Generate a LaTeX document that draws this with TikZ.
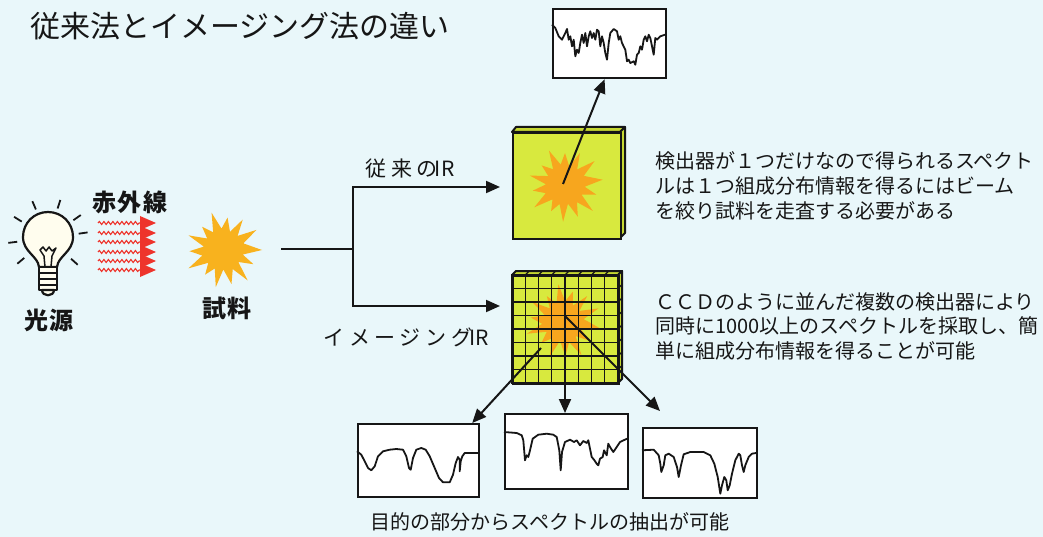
\documentclass[tikz,border=0pt]{standalone}
\usepackage{fontspec}
\setmainfont{Noto Sans CJK JP}
\newfontfamily\jpwide[LetterSpace=22]{Noto Sans CJK JP}
\newfontfamily\jplabel[LetterSpace=6]{Noto Sans CJK JP}
\usetikzlibrary{arrows.meta,decorations.pathmorphing}

\definecolor{bgc}{RGB}{233,247,250}
\definecolor{ink}{RGB}{22,22,22}
\definecolor{detgreen}{RGB}{216,233,62}
\definecolor{detside}{RGB}{198,216,50}
\definecolor{burstor}{RGB}{248,178,30}
\definecolor{burstin}{RGB}{247,166,30}
\definecolor{rayred}{RGB}{238,52,44}
\definecolor{glass}{RGB}{255,253,238}

\tikzset{
  burst/.pic={
    \fill[pic actions] (0:1) -- (13:0.52) -- (25:0.86) -- (38:0.5) -- (51:1) -- (63:0.55)
      -- (76:0.9) -- (89:0.5) -- (101:0.97) -- (114:0.52) -- (126:0.78) -- (139:0.5)
      -- (152:1) -- (165:0.55) -- (178:0.86) -- (190:0.5) -- (203:0.96) -- (216:0.5)
      -- (228:0.8) -- (241:0.52) -- (253:1) -- (266:0.55) -- (278:0.84) -- (291:0.5)
      -- (303:0.93) -- (316:0.52) -- (329:1) -- (342:0.55) -- cycle;
  },
  arr/.style={draw=ink, line width=2pt, -{Triangle[length=14pt,width=12pt]}},
  link/.style={draw=ink, line width=2pt},
  specbox/.style={draw=ink, line width=2.2pt, fill=white, anchor=north west, inner sep=0pt},
  specline/.style={draw=ink, line width=1.8pt, line join=round},
  detface/.style={draw=ink, line width=2pt, fill=detgreen, anchor=north west, inner sep=0pt},
  detedge/.style={draw=ink, line width=2pt, fill=detside, line join=round},
  gridl/.style={draw=ink, line width=1.3pt},
  wave/.style={draw=rayred, line width=1.1pt, decorate,
    decoration={snake, segment length=4.5pt, amplitude=1.5pt}},
  txt/.style={text=ink, inner sep=0pt},
  bulbline/.style={draw=ink, line width=2.2pt, line join=round},
}

\begin{document}
\begin{tikzpicture}[x=1pt,y=-1pt]
\fill[bgc] (0,0) rectangle (1043,537);
\useasboundingbox (0,0) rectangle (1043,537);

% heading
\node[txt, anchor=west, font=\fontsize{30}{36}\selectfont] (title) at (30,26) {従来法とイメージング法の違い};

% light bulb
\filldraw[fill=glass, bulbline]
  (39,267) .. controls (38,256) and (23,252) .. (23,237)
  .. controls (23,223) and (34,212) .. (48,212)
  .. controls (62,212) and (73,223) .. (73,237)
  .. controls (73,252) and (58,256) .. (57,267) -- cycle;
\filldraw[fill=glass, bulbline] (39,267) rectangle (57,290);
\draw[ink, line width=1.6pt] (39,273) -- (57,273) (39,279) -- (57,279) (39,285) -- (57,285);
\filldraw[fill=glass, bulbline] (42,290) .. controls (42,297) and (54,297) .. (54,290) -- cycle;
\draw[ink, line width=1.5pt, line join=round]
  (45,267) -- (44,256) -- (40,250) -- (43,247) -- (46,251) -- (49,247) -- (52,251) -- (56,248) -- (52,256) -- (51,267);
\foreach \a in {-187,-148,-113,-72,-35,-8,42,140}
  \draw[ink, line width=1.8pt, shift={(48,238)}] (\a:31) -- (\a:40);
\node[txt, anchor=center, font=\jplabel\bfseries\fontsize{24}{28}\selectfont] (lamp) at (49,320) {光源};

% infrared rays
\node[txt, anchor=center, font=\jplabel\bfseries\fontsize{24}{28}\selectfont] (irlabel) at (130,202) {赤外線};
\foreach \y in {223,233,242,252,261,270}
  \draw[wave] (98,\y) -- (141,\y);
\foreach \y in {223,233,242,252,261,270}
  \fill[rayred] (140,\y-7) -- (156,\y) -- (140,\y+7) -- cycle;

% sample
\pic[fill=burstor, scale=39] at (223,250) {burst};
\node[txt, anchor=center, font=\jplabel\bfseries\fontsize{24}{28}\selectfont] (samplabel) at (227,308) {試料};

% branching paths
\coordinate (sampout) at (281,249);
\coordinate (split) at (353,249);
\coordinate (in1) at (500,187);
\coordinate (in2) at (500,306);
\draw[link] (sampout) -- (split);
\draw[arr] (split) |- (in1);
\draw[arr] (split) |- (in2);
\node[txt, anchor=center, font=\fontsize{21}{25}\selectfont] (conv) at (410,169) {{\jpwide 従来の}\kern-3pt IR};
\node[txt, anchor=center, font=\fontsize{21}{25}\selectfont] (imag) at (406,337) {{\jpwide イメージング}\kern-3pt IR};

% single-element detector
\filldraw[detedge] (512,132) -- (516,127) -- (625,127) -- (620,132) -- cycle;
\filldraw[detedge] (620,132) -- (625,127) -- (625,233) -- (620,238) -- cycle;
\node[detface, minimum width=108pt, minimum height=106pt] (det1) at (512,132) {};
\pic[fill=burstin, scale=38, rotate=8] at (565,185) {burst};
\coordinate (c1) at (563,184);

% array detector
\filldraw[detedge] (512,275) -- (516,271) -- (622,271) -- (618,275) -- cycle;
\filldraw[detedge] (618,275) -- (622,271) -- (622,379) -- (618,383) -- cycle;
\node[detface, minimum width=106pt, minimum height=108pt] (det2) at (512,275) {};
\pic[fill=burstin, scale=38, rotate=-10] at (563,322) {burst};
\foreach \i in {1,...,7} {
  \draw[gridl] (512+13.25*\i,275) -- (512+13.25*\i,383);
  \draw[gridl] (512,275+13.5*\i) -- (618,275+13.5*\i);
  \draw[gridl] (512+13.25*\i,275) -- (516+13.25*\i,271);
  \draw[gridl] (618,275+13.5*\i) -- (622,271+13.5*\i);
}
\draw[ink, line width=2pt] (512,275) rectangle (618,383);
\coordinate (c2) at (565,316);
\coordinate (c3) at (541,348);
\coordinate (c4) at (565,338);

% spectrum boxes
\node[specbox, minimum width=113pt, minimum height=69pt] (sp0) at (552,8) {};
\node[specbox, minimum width=121pt, minimum height=73pt] (sp1) at (357,423) {};
\node[specbox, minimum width=123pt, minimum height=75pt] (sp2) at (504,413) {};
\node[specbox, minimum width=114pt, minimum height=70pt] (sp3) at (642,427) {};

\draw[specline, shift={(sp0.north west)}] plot coordinates {
 (0,16.7) (3.3,20) (6.7,28.3) (10,31.7) (13.3,25) (15,21) (16.7,31.7) (18.3,28.3)
 (20,38.3) (21.7,31.7) (23.3,48.3) (25,41.7) (26.7,45) (28.3,35) (30,26.7) (31.7,35)
 (33.3,25) (35,38.3) (36.7,28.3) (38.3,23.3) (40,30) (41.7,25) (43.3,31.7) (45,21.7)
 (46.7,23.3) (48.3,38.3) (50,28.3) (51.7,35) (53.3,45) (55,51.7) (56.7,35) (58.3,25)
 (61.7,21) (65,23.3) (66.7,31.7) (68.3,28.3) (70,35) (73.3,41.7) (75,53.3) (76.7,51.7)
 (78.3,55) (81.7,53.3) (83.3,56.7) (85,46.7) (86.7,45) (88.3,38.3) (90,41.7) (91.7,31.7)
 (93.3,28.3) (95,33.3) (96.7,26.7) (98.3,30) (100,38.3) (101.7,46.7) (103.3,30) (105,31.7)
 (108.3,28.3) (113,26.7)};

\draw[specline, shift={(sp1.north west)}] plot coordinates {
 (0,28.3) (4.3,31.7) (7.7,38.3) (11,45) (14.3,47.3) (17.7,43.3) (21,33.3) (26,28.3)
 (32.7,26.7) (39.3,26) (46,26.7) (49.3,33.3) (52,45) (53.7,46.7) (56,35) (59.3,26.7)
 (64.3,25) (68.7,26.7) (72.7,33.3) (77.7,45) (82,55) (86,59.3) (92.7,59.3) (96,51.7)
 (98.7,40) (101,34) (102.7,36.7) (102.7,48.3) (103.7,38.3) (105.3,33.3) (107.7,30) (121,30)};

\draw[specline, shift={(sp2.north west)}] plot coordinates {
 (0,19) (12.7,20) (17.7,22.3) (19.3,27.3) (21,47.3) (22.7,42.3) (24.3,44) (26,37.3)
 (28.7,25.7) (34.3,21.7) (42.7,20.7) (49.3,21.7) (52.7,24) (55.3,37.3) (56.7,57.3) (58,39)
 (61,29) (66,26.7) (70,29) (72.7,27.3) (76,32.3) (79.3,28) (82.7,30) (84.3,27.3)
 (86,35.7) (87.7,44) (90,46.7) (92.7,50.7) (94.3,52.3) (96,45.7) (98.7,44) (100,37.3)
 (102.7,42.3) (104.3,30.7) (106,34) (109.3,39) (112.7,34) (116,29) (123,25.7)};

\draw[specline, shift={(sp3.north west)}] plot coordinates {
 (0,23.3) (11.7,22.7) (16.7,28.3) (18.3,36.7) (19.3,45) (21.7,38.3) (23.3,28.3) (26.7,26.7)
 (31.7,30) (35,40) (36.7,50) (39,38.3) (41.7,27.3) (48.3,25) (61.7,25) (68.3,28.3)
 (72.3,36.7) (75.7,50) (78.3,66.7) (80,58.3) (82.3,50) (84.3,53.3) (85.7,63.3) (87.7,58.3)
 (90,46.7) (93.3,33.3) (96.7,26.7) (98.3,28.3) (100,38.3) (101.7,45) (103.3,38.3) (106.7,30)
 (110,26.7) (114,26)};

% detector-to-spectrum arrows
\draw[arr] (c1) -- ([xshift=-5pt]sp0.south);
\draw[arr] (c3) -- ([xshift=-8pt]sp1.north east);
\draw[arr] (c4) -- (c4 |- sp2.north);
\draw[arr] (c2) -- ([xshift=18pt,yshift=16pt]sp3.north west);

% explanations
\node[txt, anchor=west, align=left, font=\fontsize{20}{25}\selectfont] (note1) at (655,186)
  {検出器が１つだけなので得られるスペクト\\ルは１つ組成分布情報を得るにはビーム\\を絞り試料を走査する必要がある};
\node[txt, anchor=west, align=left, font=\fontsize{20}{24.5}\selectfont] (note2) at (655,326)
  {ＣＣＤのように並んだ複数の検出器により\\同時に1000以上のスペクトルを採取し、簡\\単に組成分布情報を得ることが可能};
\node[txt, anchor=center, font=\fontsize{20}{24}\selectfont] (foot) at (550,522)
  {目的の部分からスペクトルの抽出が可能};
\end{tikzpicture}
\end{document}
